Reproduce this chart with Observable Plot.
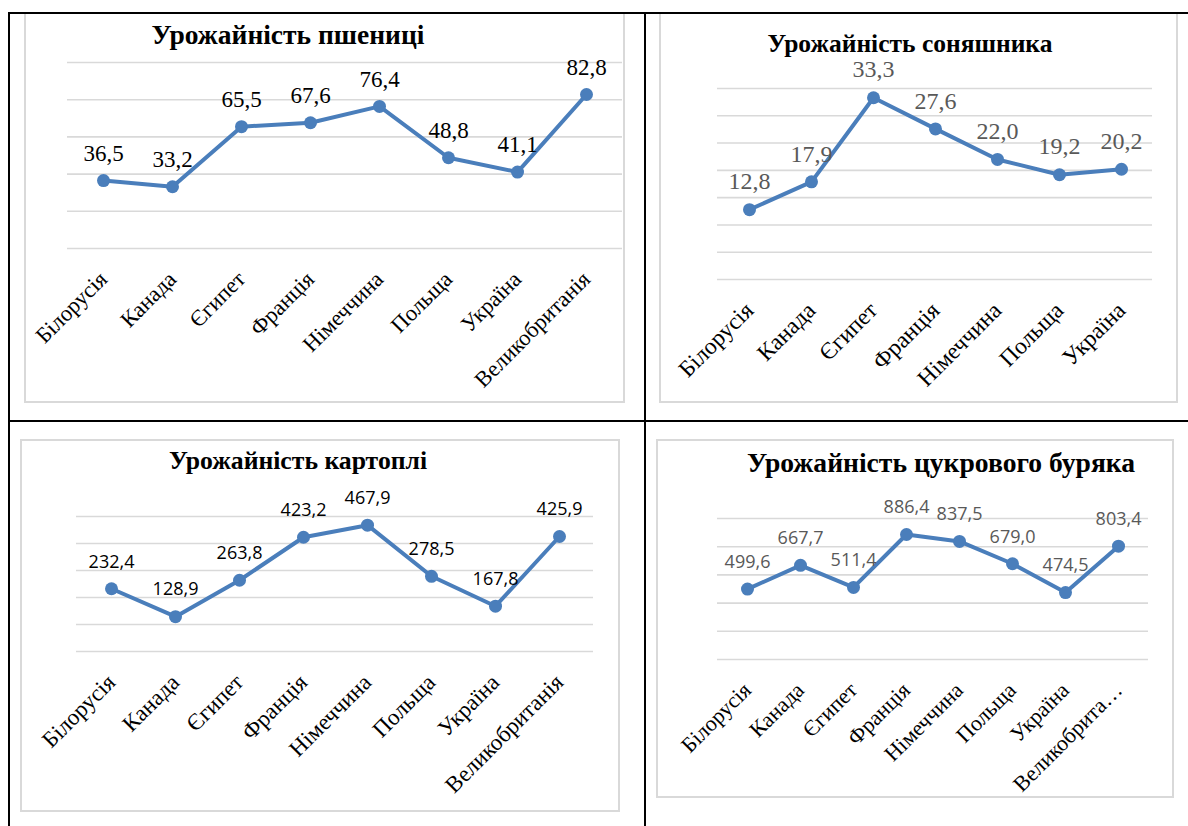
<!DOCTYPE html>
<html>
<head>
<meta charset="utf-8">
<script src="https://cdn.jsdelivr.net/npm/d3@7"></script>
<script src="https://cdn.jsdelivr.net/npm/@observablehq/plot@0.6"></script>
<style>
  html, body { margin: 0; padding: 0; background: #fff; }
  #page { position: relative; width: 1188px; height: 826px; overflow: hidden; background: #fff; }
  .line { position: absolute; background: #000; }
  .box { position: absolute; border: 2px solid #d9d9d9; box-sizing: border-box; }
  .title { position: absolute; font-weight: bold; color: #000; white-space: nowrap; transform: translateX(-50%); }
  .plot { position: absolute; }
</style>
</head>
<body>
<div id="page"></div>
<script>
// ---------- data ----------
const countries8 = ["Білорусія", "Канада", "Єгипет", "Франція", "Німеччина", "Польща", "Україна", "Великобританія"];
const countries7 = ["Білорусія", "Канада", "Єгипет", "Франція", "Німеччина", "Польща", "Україна"];
const beetTickLabels = ["Білорусія", "Канада", "Єгипет", "Франція", "Німеччина", "Польща", "Україна", "Великобрита…"];

const wheatValues = [36.5, 33.2, 65.5, 67.6, 76.4, 48.8, 41.1, 82.8];
const sunflowerValues = [12.8, 17.9, 33.3, 27.6, 22.0, 19.2, 20.2];
const potatoValues = [232.4, 128.9, 263.8, 423.2, 467.9, 278.5, 167.8, 425.9];
const beetValues = [499.6, 667.7, 511.4, 886.4, 837.5, 679.0, 474.5, 803.4];

const wheatTicks = [0, 20, 40, 60, 80, 100];
const sunflowerTicks = [0, 5, 10, 15, 20, 25, 30, 35];
const potatoTicks = [0, 100, 200, 300, 400, 500];
const beetTicks = [0, 200, 400, 600, 800, 1000];

const titles = ["Урожайність пшениці", "Урожайність соняшника", "Урожайність картоплі", "Урожайність цукрового буряка"];

// ---------- layout ----------
const SERIF = '"Liberation Serif", "Times New Roman", serif';
const SANS = '"Open Sans", "Noto Sans", sans-serif';
const page = document.getElementById("page");
function addDiv(cls, css, text, family) {
  const d = document.createElement("div");
  d.className = cls;
  Object.assign(d.style, css);
  if (family) d.style.setProperty("font-family", family, "important");
  if (text) d.textContent = text;
  page.appendChild(d);
  return d;
}

const BLUE = "#4a7ebb";
const fmt = v => v.toFixed(1).replace(".", ",");

function chart(cfg) {
  const data = cfg.cats.map((c, i) => ({c, v: cfg.values[i]}));
  const labels = cfg.tickLabels || cfg.cats;
  const svg = Plot.plot({
    width: cfg.w, height: cfg.h,
    marginLeft: cfg.ml, marginRight: cfg.mr, marginTop: cfg.mt, marginBottom: cfg.mb,
    style: {fontFamily: SERIF, fontSize: cfg.axisFont + "px", color: "#000", background: "transparent", overflow: "visible"},
    x: {type: "point", domain: cfg.cats, padding: 0.5, axis: null},
    y: {domain: [0, cfg.ticks[cfg.ticks.length - 1]], axis: null},
    marks: [
      Plot.ruleY(cfg.ticks, {stroke: "#d9d9d9", strokeWidth: 1.6}),
      Plot.line(data, {x: "c", y: "v", stroke: BLUE, strokeWidth: 4, strokeLinejoin: "round"}),
      Plot.dot(data, {x: "c", y: "v", r: 6.5, fill: BLUE, stroke: "none"}),
      Plot.text(data, {x: "c", y: "v", text: d => fmt(d.v), dy: cfg.labelDy, fontSize: cfg.labelFont, fill: cfg.labelColor, className: "vlabel"}),
      Plot.axisX({
        label: null,
        tickSize: 0, tickPadding: cfg.tickPad, tickRotate: -45, dx: cfg.tickDx,
        tickFormat: (d) => labels[cfg.cats.indexOf(d)],
        fontSize: cfg.axisFont, fill: "#000"
      })
    ]
  });
  svg.classList.add("plot");
  svg.style.left = cfg.x + "px";
  svg.style.top = cfg.y + "px";
  svg.querySelectorAll("text").forEach(t => {
    const isLabel = t.closest(".vlabel") !== null;
    t.style.setProperty("font-family", isLabel ? cfg.labelFamily : SERIF, "important");
  });
  page.appendChild(svg);
}

// chart boxes
addDiv("box", {left: "24px", top: "12px", width: "601px", height: "391px"});
addDiv("box", {left: "659px", top: "12px", width: "519px", height: "391px"});
addDiv("box", {left: "20px", top: "439px", width: "600px", height: "373px"});
addDiv("box", {left: "656px", top: "439px", width: "518px", height: "359px"});

// titles
addDiv("title", {left: "288px", top: "19px", fontSize: "27.5px"}, titles[0], SERIF);
addDiv("title", {left: "910px", top: "29px", fontSize: "25.5px"}, titles[1], SERIF);
addDiv("title", {left: "298px", top: "446px", fontSize: "25.7px"}, titles[2], SERIF);
addDiv("title", {left: "941px", top: "447px", fontSize: "27.6px"}, titles[3], SERIF);

chart({cats: countries8, values: wheatValues, ticks: wheatTicks,
  x: 24, y: 13, w: 600, h: 389, ml: 43, mr: 2, mt: 49, mb: 154,
  labelDy: -27, labelFamily: SERIF, labelFont: 23, labelColor: "#000",
  axisFont: 22.5, tickPad: 27, tickDx: 0});

chart({cats: countries7, values: sunflowerValues, ticks: sunflowerTicks,
  x: 660, y: 13, w: 517, h: 389, ml: 57, mr: 25, mt: 75, mb: 123,
  labelDy: -28, labelFamily: SERIF, labelFont: 24, labelColor: "#595959",
  axisFont: 23.5, tickPad: 27, tickDx: 0});

chart({cats: countries8, values: potatoValues, ticks: potatoTicks,
  x: 20, y: 440, w: 599, h: 371, ml: 56, mr: 26, mt: 76, mb: 160,
  labelDy: -27, labelFamily: SANS, labelFont: 18, labelColor: "#000",
  axisFont: 23, tickPad: 27, tickDx: 0});

chart({cats: countries8, values: beetValues, ticks: beetTicks, tickLabels: beetTickLabels,
  x: 657, y: 440, w: 516, h: 357, ml: 60, mr: 25, mt: 78, mb: 138,
  labelDy: -27, labelFamily: SANS, labelFont: 18, labelColor: "#595959",
  axisFont: 22, tickPad: 27, tickDx: 0});

// table lines
addDiv("line", {left: "8px", top: "12px", width: "1180px", height: "2px"});
addDiv("line", {left: "8px", top: "12px", width: "2px", height: "814px"});
addDiv("line", {left: "644px", top: "12px", width: "2px", height: "814px"});
addDiv("line", {left: "8px", top: "420px", width: "1180px", height: "2px"});
</script>
</body>
</html>
